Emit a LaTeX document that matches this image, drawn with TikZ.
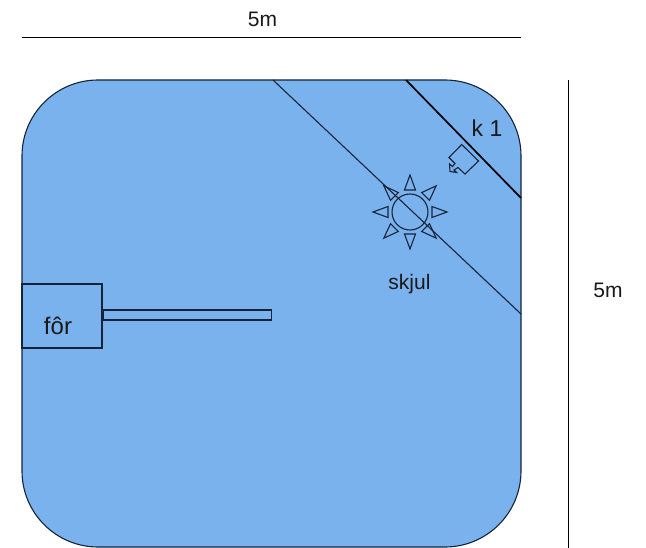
\documentclass[tikz,border=0pt]{standalone}
\usepackage{fontspec}
\setmainfont{Liberation Sans}
\usepackage{xcolor}
\definecolor{planblue}{RGB}{122,178,238}
\definecolor{planline}{RGB}{22,36,58}
\usetikzlibrary{positioning,calc}
\tikzset{
	wall/.style={draw=planline, line width=1.1pt},
	plantext/.style={font=\fontsize{21}{24}\selectfont, text=black!90, inner sep=0pt},
	ray/.style={draw=planline, line width=1.1pt, line join=miter},
}

\begin{document}
\begin{tikzpicture}[x=1pt,y=-1pt]
		\useasboundingbox (0,0) rectangle (646,548);
		% field
		\clip (0,0) rectangle (646,547.5);
		\draw[wall, fill=planblue, rounded corners=76pt] (22,80) rectangle (521,547);
		% shelter lines
		\draw[wall] (273,80) -- (521,314);
		\draw[black, line width=1.7pt] (406,80) -- (521,198);
		% sun
		\coordinate (sun) at (410,212);
		\draw[ray] (sun) circle (18);
		\foreach \a in {0,45,...,315}
			\draw[ray] ($(sun)+(\a:37)$) -- ($(sun)+(\a:22)+(\a+90:5.5)$) -- ($(sun)+(\a:22)+(\a-90:5.5)$) -- cycle;
		% camera
		\draw[ray] (461.7,144.5) -- (478.5,161) -- (465,174) -- (458,167.5) -- (454,170) -- (456.5,172.5) -- (450,171.5) -- (449.5,164) -- (452.5,166.5) -- (455,163.5) -- (449,157.5) -- cycle;
		% feeder
		\node[wall, minimum width=80pt, minimum height=64pt, inner sep=0pt] (feeder) at (62,316) {};
		\node[wall, minimum width=168pt, minimum height=10pt, inner sep=0pt, anchor=west] (trough) at (feeder.east |- 0,315) {};
		% labels
		\node[plantext, font=\fontsize{24}{28}\selectfont] (fortext) at (58,326) {fôr};
		\node[plantext] (skjultext) at (409.5,284) {skjul};
		\node[plantext, font=\fontsize{23}{26}\selectfont] (ktext) at (487,128) {k 1};
		\node[plantext] (widthtext) at (262.5,19) {5m};
		\node[plantext] (heighttext) at (608,290) {5m};
		% dimensions
		\coordinate (wa) at (22,38);
		\coordinate (wb) at (521,38);
		\coordinate (ha) at (568,80);
		\coordinate (hb) at (568,548);
		\draw[black, line width=1pt] (wa) -- (wb);
		\draw[black, line width=1pt] (ha) -- (hb);
	\end{tikzpicture}
\end{document}
